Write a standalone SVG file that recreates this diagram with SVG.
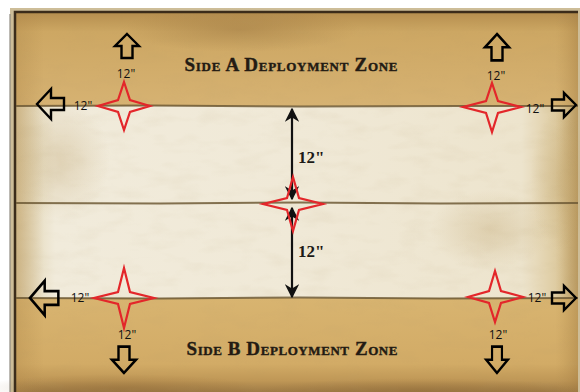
<svg xmlns="http://www.w3.org/2000/svg" width="580" height="392" viewBox="0 0 580 392">
  <defs>
    <linearGradient id="tanTop" x1="0" y1="0" x2="0" y2="1">
      <stop offset="0" stop-color="#b68f4f"/>
      <stop offset="0.2" stop-color="#cda763"/>
      <stop offset="1" stop-color="#d6b272"/>
    </linearGradient>
    <linearGradient id="tanBot" x1="0" y1="0" x2="0" y2="1">
      <stop offset="0" stop-color="#d8b470"/>
      <stop offset="0.7" stop-color="#d2ab66"/>
      <stop offset="0.88" stop-color="#bf9756"/>
      <stop offset="1" stop-color="#9f7b45"/>
    </linearGradient>
    <linearGradient id="midH" x1="0" y1="0" x2="1" y2="0">
      <stop offset="0" stop-color="#ded0ab"/>
      <stop offset="0.07" stop-color="#f1ebdb"/>
      <stop offset="0.5" stop-color="#f0e9d7"/>
      <stop offset="0.9" stop-color="#ede4cd"/>
      <stop offset="0.97" stop-color="#dcc89b"/>
      <stop offset="1" stop-color="#cdb27a"/>
    </linearGradient>
    <linearGradient id="sideTan" x1="0" y1="0" x2="1" y2="0">
      <stop offset="0" stop-color="#b38b4c" stop-opacity="0.4"/>
      <stop offset="0.05" stop-color="#b38b4c" stop-opacity="0"/>
      <stop offset="0.96" stop-color="#b38b4c" stop-opacity="0"/>
      <stop offset="1" stop-color="#a07a40" stop-opacity="0.45"/>
    </linearGradient>
    <radialGradient id="stain" cx="0.5" cy="0.5" r="0.5">
      <stop offset="0" stop-color="#b89a60" stop-opacity="0.3"/>
      <stop offset="1" stop-color="#b89a60" stop-opacity="0"/>
    </radialGradient>
    <radialGradient id="darkStain" cx="0.5" cy="0.5" r="0.5">
      <stop offset="0" stop-color="#8a6534" stop-opacity="0.35"/>
      <stop offset="1" stop-color="#8a6534" stop-opacity="0"/>
    </radialGradient>
    <filter id="grain" x="0" y="0" width="100%" height="100%">
      <feTurbulence type="fractalNoise" baseFrequency="0.03 0.08" numOctaves="3" seed="7"/>
      <feColorMatrix type="matrix" values="0 0 0 0 0.45  0 0 0 0 0.33  0 0 0 0 0.15  0 0 0 1 -0.45"/>
    </filter>
    <path id="arrowUp" d="M0,0 L12,12 L5.5,12 L5.5,24 L-5.5,24 L-5.5,12 L-12,12 Z"/>
    <path id="arrowUpBig" d="M0,0 L15,14 L6,14 L6,27 L-6,27 L-6,14 L-15,14 Z"/>
    <marker id="head" viewBox="0 0 10 10" refX="9" refY="5" markerWidth="6.5" markerHeight="6.5" orient="auto-start-reverse" markerUnits="strokeWidth">
      <path d="M0,0 L10,5 L0,10 L3,5 Z" fill="#111"/>
    </marker>
  </defs>
  <style>
    .star { fill: none; stroke: #e3262a; stroke-width: 2.2; stroke-linejoin: miter; stroke-miterlimit: 10; }
    .blk { fill: none; stroke: #000; stroke-width: 2.4; stroke-linejoin: miter; }
    .small { font-family: "Open Sans", "Liberation Sans", sans-serif; font-size: 12px; fill: #111; text-anchor: middle; }
    .bold12 { font-family: "Liberation Serif", "DejaVu Serif", serif; font-size: 17px; font-weight: bold; fill: #1c1a17; }
    .title { font-family: "Liberation Serif", "DejaVu Serif", serif; font-size: 19px; font-weight: bold; font-variant: small-caps; fill: #231b13; stroke: #231b13; stroke-width: 0.4; text-anchor: middle; }
    .crease { stroke: #6e5a36; stroke-width: 2; fill: none; opacity: 0.85; }
  </style>

  <!-- background paper -->
  <rect width="580" height="392" fill="#ffffff"/>
  <rect x="10" y="8" width="570" height="384" fill="#cdbd98"/>
  <rect x="16" y="13" width="562" height="93" fill="url(#tanTop)"/>
  <rect x="16" y="106" width="562" height="192" fill="url(#midH)"/>
  <rect x="16" y="298" width="562" height="94" fill="url(#tanBot)"/>
  <rect x="16" y="13" width="562" height="379" fill="url(#sideTan)"/>
  <ellipse cx="60" cy="160" rx="50" ry="60" fill="url(#stain)"/>
  <ellipse cx="490" cy="230" rx="60" ry="40" fill="url(#stain)"/>
  <ellipse cx="560" cy="180" rx="30" ry="70" fill="url(#stain)"/>
  <ellipse cx="240" cy="30" rx="120" ry="22" fill="url(#darkStain)"/>
  <ellipse cx="120" cy="388" rx="140" ry="14" fill="url(#darkStain)"/>
  <ellipse cx="420" cy="390" rx="160" ry="12" fill="url(#darkStain)"/>
  <rect x="16" y="13" width="562" height="379" filter="url(#grain)" opacity="0.18"/>

  <!-- border and creases -->
  <path d="M15,392 L15,12 L578,12" fill="none" stroke="#3b2c1a" stroke-width="2.5"/>
  <path d="M10,392 L10,14" fill="none" stroke="#8f8a80" stroke-width="2" opacity="0.6"/>
  <path class="crease" d="M16,106 L150,105.5 L300,106.5 L460,106 L578,106"/>
  <path class="crease" d="M16,203 L160,203.5 L300,202.5 L440,203.5 L578,203"/>
  <path class="crease" d="M16,298 L160,298.5 L300,297.5 L440,298.5 L578,298"/>

  <!-- titles -->
  <g id="title-a"><text class="title" x="291" y="71" textLength="213">Side A Deployment Zone</text></g>
  <g id="title-b"><text class="title" x="292" y="355" textLength="211">Side B Deployment Zone</text></g>

  <!-- connectors: central measurement arrows -->
  <g id="connectors">
    <line x1="292" y1="109" x2="292" y2="199" stroke="#111" stroke-width="2.2" marker-start="url(#head)" marker-end="url(#head)"/>
    <line x1="292" y1="208" x2="292" y2="297" stroke="#111" stroke-width="2.2" marker-start="url(#head)" marker-end="url(#head)"/>
    <text class="bold12" x="298" y="163">12"</text>
    <text class="bold12" x="298" y="257">12"</text>
  </g>

  <!-- stars -->
  <g id="star-tl"><path class="star" d="M124,82 L130,100 L150,106 L130,112 L124,130 L118,112 L98,106 L118,100 Z"/></g>
  <g id="star-tr"><path class="star" d="M492,83 L498,101 L521,107 L498,113 L492,132 L486,113 L463,107 L486,101 Z"/></g>
  <g id="star-c"><path class="star" d="M293,177 L299,198 L323,204 L299,210 L293,231 L287,210 L263,204 L287,198 Z"/></g>
  <g id="star-bl"><path class="star" d="M124,268 L130,292 L154,298 L130,304 L124,328 L118,304 L94,298 L118,292 Z"/></g>
  <g id="star-br"><path class="star" d="M495,271 L501,291 L523,297 L501,303 L495,322 L489,303 L468,297 L489,291 Z"/></g>

  <!-- block arrows -->
  <g id="arrow-tl-up"><use href="#arrowUp" class="blk" transform="translate(127,34)"/></g>
  <g id="arrow-tr-up"><use href="#arrowUp" class="blk" transform="translate(497,34) scale(1,1.1)"/></g>
  <g id="arrow-tl-left"><use href="#arrowUpBig" class="blk" transform="translate(37,104) rotate(-90)"/></g>
  <g id="arrow-tr-right"><use href="#arrowUp" class="blk" transform="translate(576,105) rotate(90)"/></g>
  <g id="arrow-bl-left"><use href="#arrowUpBig" class="blk" transform="translate(30,298) rotate(-90) scale(1.15,1.05)"/></g>
  <g id="arrow-br-right"><use href="#arrowUp" class="blk" transform="translate(576,298) rotate(90)"/></g>
  <g id="arrow-bl-down"><use href="#arrowUp" class="blk" transform="translate(124,373) rotate(180) scale(1,1.1)"/></g>
  <g id="arrow-br-down"><use href="#arrowUp" class="blk" transform="translate(497,373) rotate(180) scale(0.9,1.1)"/></g>

  <!-- small 12" labels -->
  <g id="labels">
    <text class="small" x="126" y="78">12"</text>
    <text class="small" x="83" y="110">12"</text>
    <text class="small" x="496" y="80">12"</text>
    <text class="small" x="535" y="113">12"</text>
    <text class="small" x="80" y="302">12"</text>
    <text class="small" x="127" y="339">12"</text>
    <text class="small" x="537" y="302">12"</text>
    <text class="small" x="498" y="339">12"</text>
  </g>
</svg>
